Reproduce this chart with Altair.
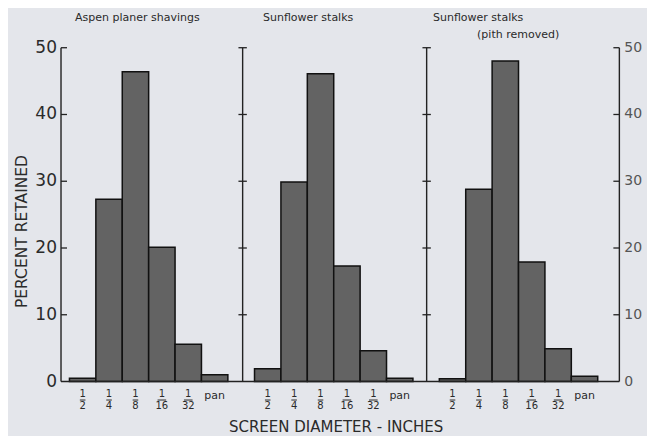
import altair as alt
import pandas as pd

# ---------------- data ----------------
categories = ["1/2", "1/4", "1/8", "1/16", "1/32", "pan"]
panel_titles = ["Aspen planer shavings", "Sunflower stalks", "Sunflower stalks"]
panel_subtitle = "(pith removed)"
aspen = [0.5, 27.3, 46.4, 20.1, 5.6, 1.0]
sunflower = [1.9, 29.9, 46.1, 17.3, 4.6, 0.5]
sunflower_pith = [0.4, 28.8, 48.0, 17.9, 4.9, 0.8]
y_ticks = [10, 20, 30, 40, 50]
y_labels = [0, 10, 20, 30, 40, 50]
y_title = "PERCENT RETAINED"
x_title = "SCREEN DIAMETER - INCHES"

# ---------------- layout (bar-width units / percent units) ----------------
W, H = 639, 428
PX_PER_U = 26.4
axis_pos = [0.0, 6.88, 13.85, 21.15]
panel_start = [0.32, 7.33, 14.33]
title_off = [0.21, 0.32, -0.24]
sub_off = 1.43
tick_u = 6 / PX_PER_U
xdom = [-2.008, -2.008 + W / PX_PER_U]
ydom = [-8.16, 55.95]

xs = alt.Scale(domain=xdom, nice=False, zero=False)
ys = alt.Scale(domain=ydom, nice=False, zero=False)
FONT = "DejaVu Sans"
INK = "#222222"

# bars
rows = []
for p, vals in enumerate([aspen, sunflower, sunflower_pith]):
    for i, (c, v) in enumerate(zip(categories, vals)):
        x0 = panel_start[p] + i
        rows.append(dict(panel=p, cat=c, x0=x0, x1=x0 + 1, xc=x0 + 0.5, v=v, zero=0))
bars_df = pd.DataFrame(rows)

bars = alt.Chart(bars_df).mark_rect(fill="#636363", stroke="#111111", strokeWidth=1.5).encode(
    x=alt.X("x0:Q", scale=xs, axis=None),
    x2="x1:Q",
    y=alt.Y("zero:Q", scale=ys, axis=None),
    y2="v:Q",
)

# baseline
base_df = pd.DataFrame([dict(a=axis_pos[0], b=axis_pos[-1], y=0)])
baseline = alt.Chart(base_df).mark_rule(color=INK, strokeWidth=1.4).encode(
    x=alt.X("a:Q", scale=xs), x2="b:Q", y=alt.Y("y:Q", scale=ys)
)

# vertical axis lines
ax_df = pd.DataFrame([dict(x=a, y0=0, y1=50) for a in axis_pos])
axis_lines = alt.Chart(ax_df).mark_rule(color=INK, strokeWidth=1.4).encode(
    x=alt.X("x:Q", scale=xs), y=alt.Y("y0:Q", scale=ys), y2="y1:Q"
)

# axis ticks
trows = []
for k, a in enumerate(axis_pos):
    for t in y_ticks:
        if k == 0:
            lo, hi = a, a + tick_u
        elif k == len(axis_pos) - 1:
            lo, hi = a - tick_u, a
        else:
            lo, hi = a - tick_u * 0.7, a + tick_u * 0.7
        trows.append(dict(x0=lo, x1=hi, y=t))
ticks = alt.Chart(pd.DataFrame(trows)).mark_rule(color=INK, strokeWidth=1.3).encode(
    x=alt.X("x0:Q", scale=xs), x2="x1:Q", y=alt.Y("y:Q", scale=ys)
)

# left axis labels
left_lab = alt.Chart(pd.DataFrame(dict(v=y_labels, x=axis_pos[0]))).mark_text(
    align="right", baseline="middle", dx=-4, font=FONT, fontSize=17, color="#2a2a2a"
).encode(x=alt.X("x:Q", scale=xs), y=alt.Y("v:Q", scale=ys), text="v:Q")

# right axis labels
right_lab = alt.Chart(pd.DataFrame(dict(v=y_labels, x=axis_pos[-1]))).mark_text(
    align="left", baseline="middle", dx=5, font=FONT, fontSize=14, color="#555555"
).encode(x=alt.X("x:Q", scale=xs), y=alt.Y("v:Q", scale=ys), text="v:Q")

# fraction labels under bars
frac_rows, pan_rows, line_rows = [], [], []
for r in rows:
    if "/" in r["cat"]:
        num, den = r["cat"].split("/")
        frac_rows.append(dict(x=r["xc"], num=num, den=den, yn=-1.83, yd=-3.64))
        half = (2.8 if len(den) == 1 else 4.3) / PX_PER_U
        line_rows.append(dict(x0=r["xc"] - half, x1=r["xc"] + half, y=-2.77))
    else:
        pan_rows.append(dict(x=r["xc"], t=r["cat"], y=-2.17))
frac_df = pd.DataFrame(frac_rows)
num_txt = alt.Chart(frac_df).mark_text(font=FONT, fontSize=10, baseline="middle", color="#2a2a2a").encode(
    x=alt.X("x:Q", scale=xs), y=alt.Y("yn:Q", scale=ys), text="num:N"
)
den_txt = alt.Chart(frac_df).mark_text(font=FONT, fontSize=10, baseline="middle", color="#2a2a2a").encode(
    x=alt.X("x:Q", scale=xs), y=alt.Y("yd:Q", scale=ys), text="den:N"
)
frac_lines = alt.Chart(pd.DataFrame(line_rows)).mark_rule(color="#2a2a2a", strokeWidth=1).encode(
    x=alt.X("x0:Q", scale=xs), x2="x1:Q", y=alt.Y("y:Q", scale=ys)
)
pan_txt = alt.Chart(pd.DataFrame(pan_rows)).mark_text(font=FONT, fontSize=11, baseline="middle", color="#2a2a2a").encode(
    x=alt.X("x:Q", scale=xs), y=alt.Y("y:Q", scale=ys), text="t:N"
)

# panel titles
tt_rows = [dict(x=panel_start[p] + title_off[p], y=54.52, t=panel_titles[p]) for p in range(3)]
tt_rows.append(dict(x=panel_start[2] + sub_off, y=51.9, t=panel_subtitle))
titles = alt.Chart(pd.DataFrame(tt_rows)).mark_text(
    font=FONT, fontSize=11, align="left", baseline="middle", color="#2a2a2a"
).encode(x=alt.X("x:Q", scale=xs), y=alt.Y("y:Q", scale=ys), text="t:N")

# axis titles
ytitle = alt.Chart(pd.DataFrame([dict(x=-1.48, y=22.47, t=y_title)])).mark_text(
    font=FONT, fontSize=15.5, angle=270, align="center", baseline="middle", color="#2a2a2a"
).encode(x=alt.X("x:Q", scale=xs), y=alt.Y("y:Q", scale=ys), text="t:N")
xtitle = alt.Chart(pd.DataFrame([dict(x=10.42, y=-6.75, t=x_title)])).mark_text(
    font=FONT, fontSize=15, align="center", baseline="middle", color="#2a2a2a"
).encode(x=alt.X("x:Q", scale=xs), y=alt.Y("y:Q", scale=ys), text="t:N")

chart = alt.layer(
    bars, baseline, axis_lines, ticks, left_lab, right_lab,
    num_txt, den_txt, frac_lines, pan_txt, titles, ytitle, xtitle
).properties(
    width=W, height=H,
    autosize=alt.AutoSizeParams(type="none"),
    padding=0,
    background="#e4e6eb",
).configure_view(stroke=None)

chart.save("out.html", embed_options={"renderer": "svg", "actions": False})
